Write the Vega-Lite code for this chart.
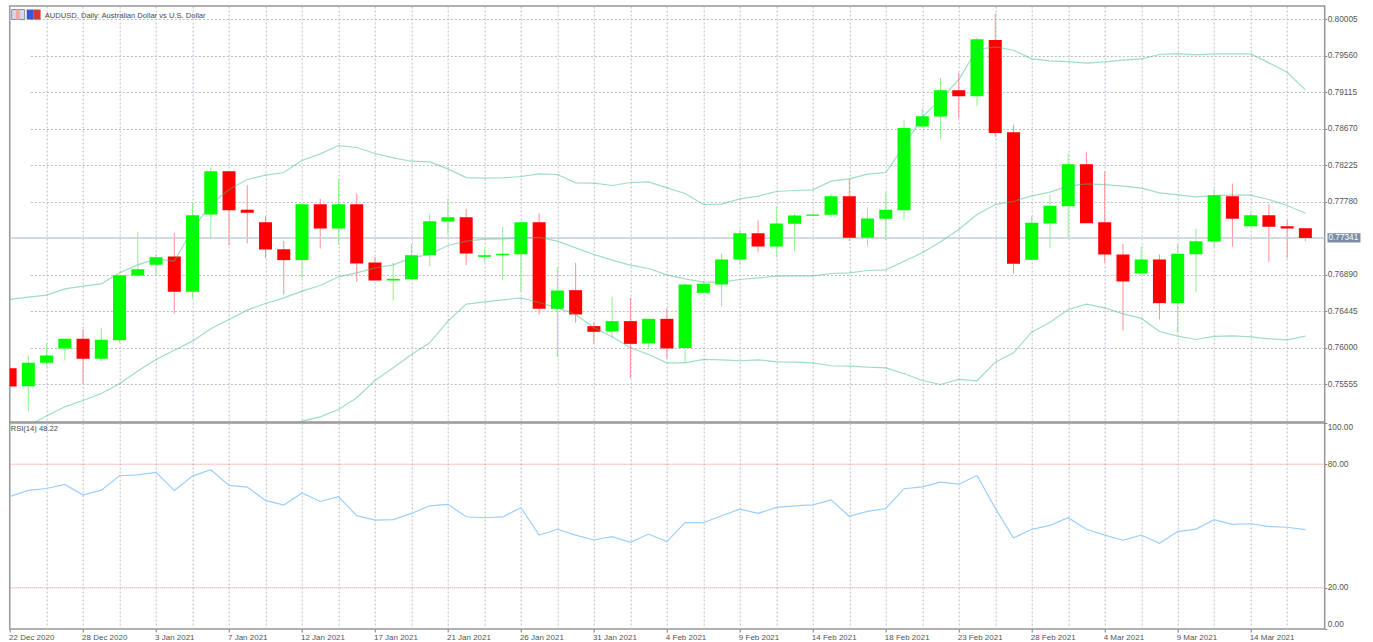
{"$schema":"https://vega.github.io/schema/vega-lite/v6.json","padding":{"left":6.7,"top":5,"right":0,"bottom":0},"background":"#ffffff","spacing":-2,"config":{"font":"Liberation Sans","view":{"stroke":"#969696","strokeWidth":1.5},"axis":{"title":null}},
"datasets":{"candles":[
{"d":"22 Dec 2020","o":0.75754,"c":0.75531,"h":0.75754,"l":0.75531,"u":0.76591,"m":0.74946,"b":null,"r":64.4},
{"d":"23 Dec 2020","o":0.75535,"c":0.75819,"h":0.75908,"l":0.7523,"u":0.76619,"m":0.75056,"b":null,"r":67.3},
{"d":"24 Dec 2020","o":0.75819,"c":0.75908,"h":0.76063,"l":0.75766,"u":0.76643,"m":0.7517,"b":null,"r":68.2},
{"d":"27 Dec 2020","o":0.75994,"c":0.76111,"h":0.76111,"l":0.75848,"u":0.7672,"m":0.75283,"b":null,"r":70.2},
{"d":"28 Dec 2020","o":0.76111,"c":0.75868,"h":0.76225,"l":0.75563,"u":0.76753,"m":0.7536,"b":null,"r":65},
{"d":"29 Dec 2020","o":0.75868,"c":0.76099,"h":0.76245,"l":0.75839,"u":0.76781,"m":0.75446,"b":null,"r":67.4},
{"d":"30 Dec 2020","o":0.76095,"c":0.76887,"h":0.76887,"l":0.76063,"u":0.76915,"m":0.75563,"b":null,"r":74.4},
{"d":"31 Dec 2020","o":0.76883,"c":0.7696,"h":0.77415,"l":0.76867,"u":0.77013,"m":0.75718,"b":null,"r":74.8},
{"d":"3 Jan 2021","o":0.77013,"c":0.77106,"h":0.77139,"l":0.76891,"u":0.77086,"m":0.7586,"b":null,"r":76},
{"d":"4 Jan 2021","o":0.77114,"c":0.76684,"h":0.77402,"l":0.7642,"u":0.77057,"m":0.75973,"b":null,"r":67.3},
{"d":"5 Jan 2021","o":0.76684,"c":0.77618,"h":0.77776,"l":0.76603,"u":0.77443,"m":0.76083,"b":null,"r":74.2},
{"d":"6 Jan 2021","o":0.77626,"c":0.78154,"h":0.78202,"l":0.77329,"u":0.77748,"m":0.76233,"b":null,"r":77.3},
{"d":"7 Jan 2021","o":0.78154,"c":0.77679,"h":0.78154,"l":0.77248,"u":0.7793,"m":0.76347,"b":null,"r":69.7},
{"d":"8 Jan 2021","o":0.77683,"c":0.77646,"h":0.77987,"l":0.77273,"u":0.78052,"m":0.76461,"b":null,"r":68.9},
{"d":"10 Jan 2021","o":0.77532,"c":0.772,"h":0.77606,"l":0.77098,"u":0.78105,"m":0.76542,"b":null,"r":62.4},
{"d":"11 Jan 2021","o":0.77204,"c":0.7707,"h":0.77305,"l":0.76651,"u":0.78137,"m":0.76611,"b":0.75007,"r":60.2},
{"d":"12 Jan 2021","o":0.7707,"c":0.77752,"h":0.77752,"l":0.76854,"u":0.78284,"m":0.76692,"b":0.75109,"r":66},
{"d":"13 Jan 2021","o":0.77752,"c":0.77455,"h":0.77817,"l":0.77212,"u":0.78365,"m":0.76761,"b":0.75161,"r":61.9},
{"d":"14 Jan 2021","o":0.77455,"c":0.77752,"h":0.78064,"l":0.7726,"u":0.78466,"m":0.76867,"b":0.75251,"r":64.2},
{"d":"15 Jan 2021","o":0.77752,"c":0.77029,"h":0.77882,"l":0.76806,"u":0.78442,"m":0.76915,"b":0.75393,"r":55},
{"d":"17 Jan 2021","o":0.77041,"c":0.76822,"h":0.7711,"l":0.76822,"u":0.78369,"m":0.76976,"b":0.75604,"r":52.9},
{"d":"18 Jan 2021","o":0.76822,"c":0.76842,"h":0.77037,"l":0.76578,"u":0.78316,"m":0.77013,"b":0.75758,"r":53.1},
{"d":"19 Jan 2021","o":0.76838,"c":0.7713,"h":0.77268,"l":0.76838,"u":0.78275,"m":0.77098,"b":0.75921,"r":56.1},
{"d":"20 Jan 2021","o":0.7713,"c":0.77545,"h":0.77638,"l":0.76996,"u":0.78267,"m":0.77139,"b":0.76063,"r":59.8},
{"d":"21 Jan 2021","o":0.77541,"c":0.77593,"h":0.77817,"l":0.77382,"u":0.78182,"m":0.77248,"b":0.76327,"r":60.5},
{"d":"22 Jan 2021","o":0.77593,"c":0.77151,"h":0.77695,"l":0.77009,"u":0.78076,"m":0.77301,"b":0.76534,"r":54.5},
{"d":"24 Jan 2021","o":0.7711,"c":0.7713,"h":0.77208,"l":0.77045,"u":0.78068,"m":0.77325,"b":0.76562,"r":54},
{"d":"25 Jan 2021","o":0.7713,"c":0.77147,"h":0.77476,"l":0.76826,"u":0.78072,"m":0.77329,"b":0.76586,"r":54.4},
{"d":"26 Jan 2021","o":0.77143,"c":0.77532,"h":0.77532,"l":0.7668,"u":0.78089,"m":0.77338,"b":0.76611,"r":58.9},
{"d":"27 Jan 2021","o":0.77532,"c":0.76477,"h":0.77638,"l":0.76408,"u":0.78121,"m":0.77346,"b":0.76554,"r":45.6},
{"d":"28 Jan 2021","o":0.76477,"c":0.767,"h":0.76984,"l":0.75888,"u":0.78113,"m":0.77301,"b":0.76489,"r":48.4},
{"d":"29 Jan 2021","o":0.76704,"c":0.76408,"h":0.77037,"l":0.76306,"u":0.78011,"m":0.7722,"b":0.76408,"r":45.6},
{"d":"31 Jan 2021","o":0.76266,"c":0.76197,"h":0.76314,"l":0.7605,"u":0.78007,"m":0.77139,"b":0.76245,"r":43.2},
{"d":"1 Feb 2021","o":0.76201,"c":0.76327,"h":0.76623,"l":0.76124,"u":0.77979,"m":0.7707,"b":0.76136,"r":44.8},
{"d":"2 Feb 2021","o":0.76327,"c":0.7605,"h":0.76611,"l":0.75628,"u":0.78016,"m":0.77009,"b":0.76002,"r":42.1},
{"d":"3 Feb 2021","o":0.76055,"c":0.76355,"h":0.76355,"l":0.76002,"u":0.78024,"m":0.76968,"b":0.75921,"r":46.1},
{"d":"4 Feb 2021","o":0.76355,"c":0.75994,"h":0.76477,"l":0.75868,"u":0.77951,"m":0.76891,"b":0.75819,"r":42.4},
{"d":"5 Feb 2021","o":0.75998,"c":0.76773,"h":0.76785,"l":0.75819,"u":0.77882,"m":0.76842,"b":0.75819,"r":51.6},
{"d":"7 Feb 2021","o":0.76672,"c":0.76781,"h":0.76814,"l":0.76672,"u":0.77748,"m":0.76802,"b":0.7586,"r":51.6},
{"d":"8 Feb 2021","o":0.76773,"c":0.77078,"h":0.77147,"l":0.76509,"u":0.77752,"m":0.76802,"b":0.75856,"r":55},
{"d":"9 Feb 2021","o":0.77078,"c":0.77398,"h":0.77443,"l":0.77017,"u":0.77817,"m":0.76834,"b":0.75844,"r":58.2},
{"d":"10 Feb 2021","o":0.77398,"c":0.77236,"h":0.77557,"l":0.77167,"u":0.77849,"m":0.76854,"b":0.75856,"r":56.1},
{"d":"11 Feb 2021","o":0.77236,"c":0.77516,"h":0.77727,"l":0.77098,"u":0.77906,"m":0.76875,"b":0.75831,"r":59},
{"d":"12 Feb 2021","o":0.77512,"c":0.77614,"h":0.77638,"l":0.77179,"u":0.77918,"m":0.76879,"b":0.75827,"r":59.8},
{"d":"14 Feb 2021","o":0.7761,"c":0.77626,"h":0.77626,"l":0.77606,"u":0.77926,"m":0.76879,"b":0.75819,"r":60.3},
{"d":"15 Feb 2021","o":0.77622,"c":0.77849,"h":0.77882,"l":0.77593,"u":0.78032,"m":0.76907,"b":0.75783,"r":62.7},
{"d":"16 Feb 2021","o":0.77849,"c":0.77342,"h":0.7806,"l":0.77301,"u":0.7806,"m":0.76915,"b":0.75779,"r":54.7},
{"d":"17 Feb 2021","o":0.77342,"c":0.77577,"h":0.77715,"l":0.7724,"u":0.78117,"m":0.76944,"b":0.75766,"r":57.1},
{"d":"18 Feb 2021","o":0.77573,"c":0.77683,"h":0.77898,"l":0.77313,"u":0.78137,"m":0.76952,"b":0.75758,"r":58.5},
{"d":"19 Feb 2021","o":0.77679,"c":0.78681,"h":0.78775,"l":0.77565,"u":0.78458,"m":0.77057,"b":0.75689,"r":68.1},
{"d":"21 Feb 2021","o":0.78698,"c":0.78823,"h":0.78913,"l":0.78698,"u":0.78815,"m":0.77159,"b":0.75604,"r":69},
{"d":"22 Feb 2021","o":0.78819,"c":0.7914,"h":0.7929,"l":0.78547,"u":0.79027,"m":0.77293,"b":0.75555,"r":71.3},
{"d":"23 Feb 2021","o":0.7914,"c":0.79067,"h":0.79351,"l":0.78795,"u":0.7927,"m":0.77443,"b":0.75616,"r":70.3},
{"d":"24 Feb 2021","o":0.79067,"c":0.79761,"h":0.79782,"l":0.78945,"u":0.79636,"m":0.77626,"b":0.756,"r":74.5},
{"d":"25 Feb 2021","o":0.79753,"c":0.7862,"h":0.80074,"l":0.78572,"u":0.79668,"m":0.77748,"b":0.75827,"r":58.7},
{"d":"26 Feb 2021","o":0.78629,"c":0.77025,"h":0.78718,"l":0.76907,"u":0.79627,"m":0.77784,"b":0.75941,"r":44.2},
{"d":"28 Feb 2021","o":0.77074,"c":0.77524,"h":0.77606,"l":0.77074,"u":0.79522,"m":0.77853,"b":0.76193,"r":48.4},
{"d":"1 Mar 2021","o":0.77516,"c":0.77731,"h":0.77865,"l":0.77216,"u":0.79497,"m":0.77898,"b":0.76314,"r":50.3},
{"d":"2 Mar 2021","o":0.77727,"c":0.78239,"h":0.78369,"l":0.77342,"u":0.79489,"m":0.77971,"b":0.76469,"r":54},
{"d":"3 Mar 2021","o":0.78239,"c":0.7752,"h":0.78381,"l":0.7752,"u":0.79469,"m":0.77999,"b":0.76534,"r":48.4},
{"d":"4 Mar 2021","o":0.77532,"c":0.77139,"h":0.7815,"l":0.77037,"u":0.79485,"m":0.77991,"b":0.76489,"r":45.6},
{"d":"5 Mar 2021","o":0.77139,"c":0.7681,"h":0.77268,"l":0.76213,"u":0.79506,"m":0.77971,"b":0.76416,"r":43.1},
{"d":"7 Mar 2021","o":0.76907,"c":0.77078,"h":0.77232,"l":0.76907,"u":0.79522,"m":0.77947,"b":0.76363,"r":45.6},
{"d":"8 Mar 2021","o":0.77078,"c":0.76546,"h":0.77139,"l":0.76347,"u":0.79575,"m":0.7789,"b":0.76201,"r":41.6},
{"d":"9 Mar 2021","o":0.76546,"c":0.77147,"h":0.77268,"l":0.76185,"u":0.79587,"m":0.77865,"b":0.76144,"r":47.3},
{"d":"10 Mar 2021","o":0.77143,"c":0.77301,"h":0.77451,"l":0.7668,"u":0.79571,"m":0.77841,"b":0.76103,"r":48.5},
{"d":"11 Mar 2021","o":0.77297,"c":0.77861,"h":0.77938,"l":0.77228,"u":0.79583,"m":0.77857,"b":0.7614,"r":53.1},
{"d":"12 Mar 2021","o":0.77849,"c":0.77573,"h":0.78003,"l":0.77232,"u":0.79583,"m":0.77861,"b":0.76148,"r":50.8},
{"d":"14 Mar 2021","o":0.77484,"c":0.77618,"h":0.77646,"l":0.77484,"u":0.79583,"m":0.77861,"b":0.76136,"r":51.1},
{"d":"15 Mar 2021","o":0.77618,"c":0.77476,"h":0.77756,"l":0.77049,"u":0.79473,"m":0.77809,"b":0.76111,"r":49.7},
{"d":"16 Mar 2021","o":0.77484,"c":0.77455,"h":0.77565,"l":0.77098,"u":0.79359,"m":0.77735,"b":0.76099,"r":49.4},
{"d":"17 Mar 2021","o":0.77459,"c":0.77341,"h":0.77459,"l":0.77301,"u":0.79144,"m":0.77642,"b":0.76144,"r":48.22}
],
"last":[{"d":"17 Mar 2021","p":0.77341,"lo":0.77286,"hi":0.77396}],
"head":[{"d":"22 Dec 2020","p":0.8005,"lo":0.80001,"hi":0.80123,"t":"AUDUSD, Daily:  Australian Dollar vs U.S. Dollar"}],
"rsihead":[{"d":"22 Dec 2020","v":97.3,"t":"RSI(14) 48.22"}],
"levels":[{"v":80},{"v":20}]},
"vconcat":[
{"width":1315,"height":416,
"encoding":{"x":{"field":"d","type":"ordinal","sort":null,"scale":{"type":"point","range":[0.4,1295.7],"padding":0,"domain":["22 Dec 2020","23 Dec 2020","24 Dec 2020","27 Dec 2020","28 Dec 2020","29 Dec 2020","30 Dec 2020","31 Dec 2020","3 Jan 2021","4 Jan 2021","5 Jan 2021","6 Jan 2021","7 Jan 2021","8 Jan 2021","10 Jan 2021","11 Jan 2021","12 Jan 2021","13 Jan 2021","14 Jan 2021","15 Jan 2021","17 Jan 2021","18 Jan 2021","19 Jan 2021","20 Jan 2021","21 Jan 2021","22 Jan 2021","24 Jan 2021","25 Jan 2021","26 Jan 2021","27 Jan 2021","28 Jan 2021","29 Jan 2021","31 Jan 2021","1 Feb 2021","2 Feb 2021","3 Feb 2021","4 Feb 2021","5 Feb 2021","7 Feb 2021","8 Feb 2021","9 Feb 2021","10 Feb 2021","11 Feb 2021","12 Feb 2021","14 Feb 2021","15 Feb 2021","16 Feb 2021","17 Feb 2021","18 Feb 2021","19 Feb 2021","21 Feb 2021","22 Feb 2021","23 Feb 2021","24 Feb 2021","25 Feb 2021","26 Feb 2021","28 Feb 2021","1 Mar 2021","2 Mar 2021","3 Mar 2021","4 Mar 2021","5 Mar 2021","7 Mar 2021","8 Mar 2021","9 Mar 2021","10 Mar 2021","11 Mar 2021","12 Mar 2021","14 Mar 2021","15 Mar 2021","16 Mar 2021","17 Mar 2021"]},"axis":{"values":["22 Dec 2020","24 Dec 2020","28 Dec 2020","30 Dec 2020","3 Jan 2021","5 Jan 2021","7 Jan 2021","10 Jan 2021","12 Jan 2021","14 Jan 2021","17 Jan 2021","19 Jan 2021","21 Jan 2021","24 Jan 2021","26 Jan 2021","28 Jan 2021","31 Jan 2021","2 Feb 2021","4 Feb 2021","7 Feb 2021","9 Feb 2021","11 Feb 2021","14 Feb 2021","16 Feb 2021","18 Feb 2021","21 Feb 2021","23 Feb 2021","25 Feb 2021","28 Feb 2021","2 Mar 2021","4 Mar 2021","7 Mar 2021","9 Mar 2021","11 Mar 2021","14 Mar 2021","16 Mar 2021"],"labels":false,"ticks":false,"domain":false,"grid":true,"gridColor":"#b4bfcc","gridDash":[2,2],"gridWidth":1,"title":null}}},
"layer":[
{"data":{"name":"candles"},"mark":{"type":"rule","strokeWidth":1,"clip":true},"encoding":{"y":{"field":"l","type":"quantitative","title":null,"scale":{"domain":[0.75098,0.80166],"nice":false,"zero":false},"axis":{"values":[0.80005,0.7956,0.79115,0.7867,0.78225,0.7778,0.7689,0.76445,0.76,0.75555],"format":".5f","orient":"right","grid":true,"gridColor":"#b8bcc4","gridDash":[2,2],"domain":false,"tickSize":2,"tickColor":"#777","labelColor":"#555","labelFontSize":8.3,"labelPadding":0.5,"title":null}},"y2":{"field":"h"},"color":{"condition":{"test":"datum.c>=datum.o","value":"#90f090"},"value":"#ff9090"}}},
{"data":{"name":"last"},"mark":{"type":"rule","color":"#c3cedb","strokeWidth":1.5},"encoding":{"x":null,"y":{"field":"p","type":"quantitative","title":null}}},
{"data":{"name":"candles"},"mark":{"type":"bar","size":13,"clip":true},"encoding":{"y":{"field":"o","type":"quantitative","title":null},"y2":{"field":"c"},"color":{"condition":{"test":"datum.c>=datum.o","value":"#00ff00"},"value":"#ff0000"}}},
{"data":{"name":"candles"},"mark":{"type":"line","color":"#42bd85","opacity":0.5,"strokeWidth":1.2,"clip":true},"encoding":{"y":{"field":"u","type":"quantitative","title":null}}},
{"data":{"name":"candles"},"mark":{"type":"line","color":"#42bd85","opacity":0.5,"strokeWidth":1.2,"clip":true},"encoding":{"y":{"field":"m","type":"quantitative","title":null}}},
{"data":{"name":"candles"},"mark":{"type":"line","color":"#42bd85","opacity":0.5,"strokeWidth":1.2,"clip":true},"encoding":{"y":{"field":"b","type":"quantitative","title":null}}},
{"data":{"name":"last"},"mark":{"type":"bar","size":33,"xOffset":38.6,"color":"#7b8ea3"},"encoding":{"y":{"field":"lo","type":"quantitative","title":null},"y2":{"field":"hi"}}},
{"data":{"name":"last"},"mark":{"type":"text","align":"left","dx":23,"baseline":"middle","fontSize":8.3,"color":"#ffffff"},"encoding":{"y":{"field":"p","type":"quantitative","title":null},"text":{"field":"p","type":"quantitative","format":".5f"}}},
{"data":{"name":"head"},"mark":{"type":"text","align":"left","dx":34.6,"baseline":"middle","fontSize":7.6,"color":"#4a4a4a"},"encoding":{"y":{"field":"p","type":"quantitative","title":null},"text":{"field":"t"}}},
{"data":{"name":"head"},"mark":{"type":"bar","size":13,"xOffset":8.1,"color":"#d5d9ee","stroke":"#8a8a8a","strokeWidth":1},"encoding":{"y":{"field":"lo","type":"quantitative","title":null},"y2":{"field":"hi"}}},
{"data":{"name":"head"},"mark":{"type":"bar","size":4,"xOffset":7.6,"color":"#f0a8a8"},"encoding":{"y":{"field":"lo","type":"quantitative","title":null},"y2":{"field":"hi"}}},
{"data":{"name":"head"},"mark":{"type":"bar","size":7,"xOffset":20.1,"color":"#3a55d8"},"encoding":{"y":{"field":"lo","type":"quantitative","title":null},"y2":{"field":"hi"}}},
{"data":{"name":"head"},"mark":{"type":"bar","size":7,"xOffset":27,"color":"#d93636"},"encoding":{"y":{"field":"lo","type":"quantitative","title":null},"y2":{"field":"hi"}}}
]},
{"width":1315,"height":206,
"encoding":{"x":{"field":"d","type":"ordinal","sort":null,"scale":{"type":"point","range":[0.4,1295.7],"padding":0,"domain":["22 Dec 2020","23 Dec 2020","24 Dec 2020","27 Dec 2020","28 Dec 2020","29 Dec 2020","30 Dec 2020","31 Dec 2020","3 Jan 2021","4 Jan 2021","5 Jan 2021","6 Jan 2021","7 Jan 2021","8 Jan 2021","10 Jan 2021","11 Jan 2021","12 Jan 2021","13 Jan 2021","14 Jan 2021","15 Jan 2021","17 Jan 2021","18 Jan 2021","19 Jan 2021","20 Jan 2021","21 Jan 2021","22 Jan 2021","24 Jan 2021","25 Jan 2021","26 Jan 2021","27 Jan 2021","28 Jan 2021","29 Jan 2021","31 Jan 2021","1 Feb 2021","2 Feb 2021","3 Feb 2021","4 Feb 2021","5 Feb 2021","7 Feb 2021","8 Feb 2021","9 Feb 2021","10 Feb 2021","11 Feb 2021","12 Feb 2021","14 Feb 2021","15 Feb 2021","16 Feb 2021","17 Feb 2021","18 Feb 2021","19 Feb 2021","21 Feb 2021","22 Feb 2021","23 Feb 2021","24 Feb 2021","25 Feb 2021","26 Feb 2021","28 Feb 2021","1 Mar 2021","2 Mar 2021","3 Mar 2021","4 Mar 2021","5 Mar 2021","7 Mar 2021","8 Mar 2021","9 Mar 2021","10 Mar 2021","11 Mar 2021","12 Mar 2021","14 Mar 2021","15 Mar 2021","16 Mar 2021","17 Mar 2021"]},"axis":{"values":["22 Dec 2020","24 Dec 2020","28 Dec 2020","30 Dec 2020","3 Jan 2021","5 Jan 2021","7 Jan 2021","10 Jan 2021","12 Jan 2021","14 Jan 2021","17 Jan 2021","19 Jan 2021","21 Jan 2021","24 Jan 2021","26 Jan 2021","28 Jan 2021","31 Jan 2021","2 Feb 2021","4 Feb 2021","7 Feb 2021","9 Feb 2021","11 Feb 2021","14 Feb 2021","16 Feb 2021","18 Feb 2021","21 Feb 2021","23 Feb 2021","25 Feb 2021","28 Feb 2021","2 Mar 2021","4 Mar 2021","7 Mar 2021","9 Mar 2021","11 Mar 2021","14 Mar 2021","16 Mar 2021"],"labelExpr":"indexof(['22 Dec 2020','28 Dec 2020','3 Jan 2021','7 Jan 2021','12 Jan 2021','17 Jan 2021','21 Jan 2021','26 Jan 2021','31 Jan 2021','4 Feb 2021','9 Feb 2021','14 Feb 2021','18 Feb 2021','23 Feb 2021','28 Feb 2021','4 Mar 2021','9 Mar 2021','14 Mar 2021'],datum.value)>=0?datum.value:''","labelAngle":0,"labelAlign":"left","labelOverlap":false,"labelBound":false,"labelFlush":false,"labelColor":"#555","labelFontSize":8,"labelOffset":-1.5,"labelPadding":1.5,"tickSize":3,"tickColor":{"condition":{"test":"indexof(['22 Dec 2020','28 Dec 2020','3 Jan 2021','7 Jan 2021','12 Jan 2021','17 Jan 2021','21 Jan 2021','26 Jan 2021','31 Jan 2021','4 Feb 2021','9 Feb 2021','14 Feb 2021','18 Feb 2021','23 Feb 2021','28 Feb 2021','4 Mar 2021','9 Mar 2021','14 Mar 2021'],datum.value)>=0","value":"#777"},"value":"transparent"},"domain":false,"grid":true,"gridColor":"#b4bfcc","gridDash":[2,2],"gridWidth":1,"title":null}}},
"layer":[
{"data":{"name":"candles"},"mark":{"type":"line","color":"#9ccfff","strokeWidth":1.2},"encoding":{"y":{"field":"r","type":"quantitative","title":null,"scale":{"domain":[0,100],"nice":false},"axis":{"values":[0,20,80,100],"format":".2f","orient":"right","grid":false,"domain":false,"tickSize":2,"tickColor":"#777","labelColor":"#555","labelFontSize":8.3,"labelPadding":0.5,"labelFlush":true,"title":null}}}},
{"data":{"name":"levels"},"mark":{"type":"rule","color":"#ff8080","strokeDash":[1,1],"strokeWidth":1},"encoding":{"x":null,"y":{"field":"v","type":"quantitative","title":null}}},
{"data":{"name":"rsihead"},"mark":{"type":"text","align":"left","dx":0.6,"baseline":"middle","fontSize":7.6,"color":"#4a4a4a"},"encoding":{"y":{"field":"v","type":"quantitative","title":null},"text":{"field":"t"}}}
]}
]}
